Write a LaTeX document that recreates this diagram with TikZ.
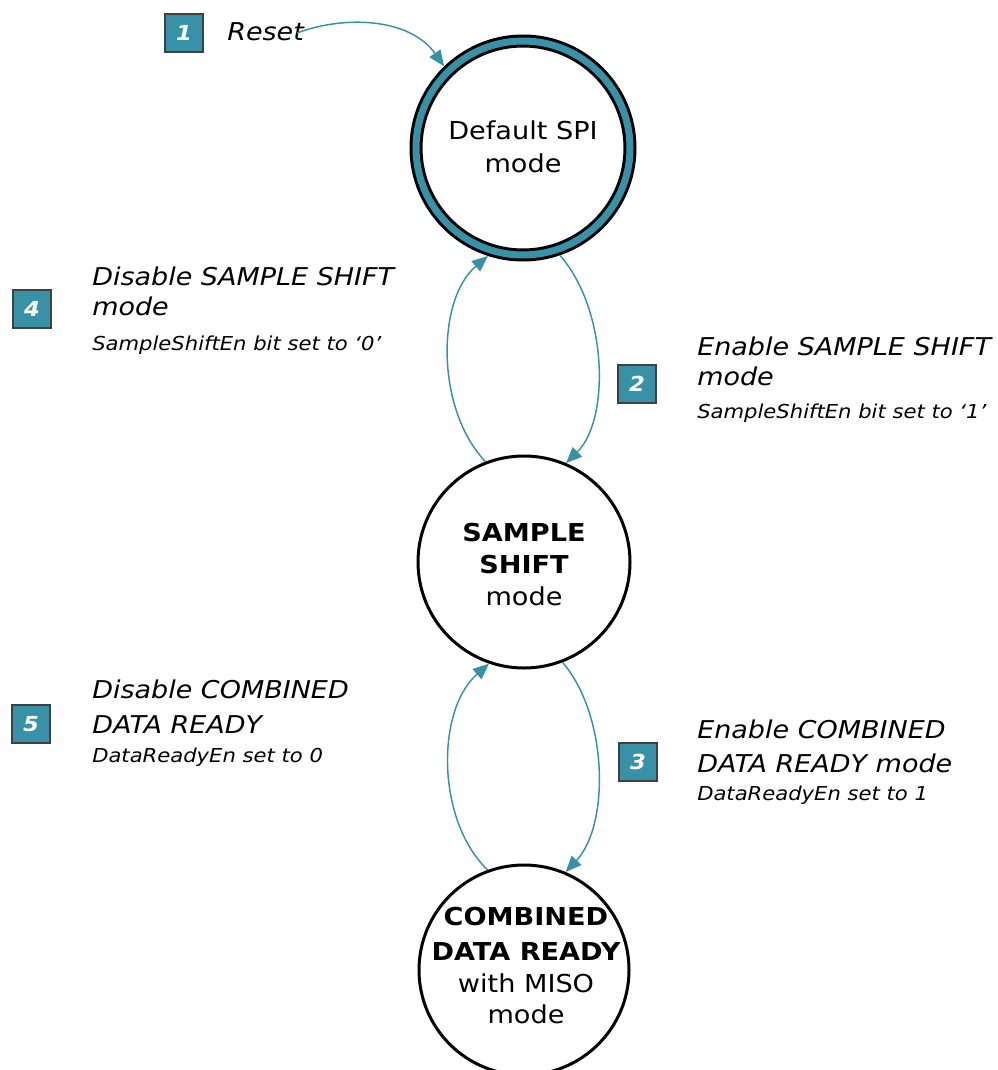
\documentclass[tikz,border=0pt]{standalone}
\usepackage{fontspec}
\setmainfont[FakeStretch=1.1]{DejaVu Sans}
\usetikzlibrary{arrows.meta}
\definecolor{tealc}{RGB}{55,146,168}
\begin{document}
\begin{tikzpicture}[x=0.75pt,y=-0.75pt,
  state/.style={circle, draw=black, line width=2.25pt, fill=white, inner sep=0pt},
  badge/.style={rectangle, fill=tealc, draw=black!75, line width=0.8pt, minimum size=28.5pt, inner sep=0pt, text=white, font=\fontsize{15.5}{18}\selectfont\bfseries\itshape},
  big/.style={anchor=base west, inner sep=0pt, font=\fontsize{18.4}{20}\selectfont\itshape},
  small/.style={anchor=base west, inner sep=0pt, font=\fontsize{14.4}{16}\selectfont\itshape},
  stxt/.style={anchor=base, inner sep=0pt, font=\fontsize{18.5}{22}\selectfont},
  stxtb/.style={anchor=base, inner sep=0pt, font=\fontsize{18.5}{22}\selectfont\bfseries},
  conn/.style={draw=tealc, line width=1.1pt, -{Triangle[length=12pt,width=10pt]}}
]
\useasboundingbox (0,0) rectangle (997,1070);

% states
\node[state, minimum size=160.5pt, double=tealc, double distance=5.25pt, outer sep=4.9pt] (spi) at (523,148) {};
\node[state, minimum size=159pt] (ss) at (524,562) {};
\node[state, minimum size=157.5pt] (cdr) at (524,970) {};

% state texts
\node[stxt] (t1a) at (523,140) {Default SPI};
\node[stxt] (t1b) at (523,172) {mode};
\node[stxtb] (t2a) at (524,541) {SAMPLE};
\node[stxtb] (t2b) at (524,573) {SHIFT};
\node[stxt] (t2c) at (524,605) {mode};
\node[stxtb] (t3a) at (526,925) {COMBINED};
\node[stxtb] (t3b) at (526,960) {DATA READY};
\node[stxt] (t3c) at (526,992) {with MISO};
\node[stxt] (t3d) at (526,1023) {mode};

% badges
\node[badge] (b1) at (184,33) {1};
\node[badge] (b4) at (32,309) {4};
\node[badge] (b2) at (637,384) {2};
\node[badge] (b5) at (31,724) {5};
\node[badge] (b3) at (638,762) {3};

% labels
\node[big] (reset) at (227,41) {Reset};
\node[big] (l4a) at (92,285) {Disable SAMPLE SHIFT};
\node[big] (l4b) at (92,315) {mode};
\node[small] (l4c) at (92,350) {SampleShiftEn bit set to ‘0’};
\node[big] (l2a) at (697,355) {Enable SAMPLE SHIFT};
\node[big] (l2b) at (697,385) {mode};
\node[small] (l2c) at (697,418) {SampleShiftEn bit set to ‘1’};
\node[big] (l5a) at (92,698) {Disable COMBINED};
\node[big] (l5b) at (92,733) {DATA READY};
\node[small] (l5c) at (92,762) {DataReadyEn set to 0};
\node[big] (l3a) at (697,738) {Enable COMBINED};
\node[big] (l3b) at (697,772) {DATA READY mode};
\node[small] (l3c) at (697,800) {DataReadyEn set to 1};

% connectors
\coordinate (rs) at (297,33);
\draw[conn] (rs) .. controls (345,15) and (410,18) .. (spi.134);
\draw[conn] (spi.-71) .. controls (608,310) and (610,420) .. (ss.67);
\draw[conn] (ss.111) .. controls (436,410) and (436,300) .. (spi.-108);
\draw[conn] (ss.-69) .. controls (608,715) and (610,825) .. (cdr.67);
\draw[conn] (cdr.110) .. controls (436,820) and (436,710) .. (ss.-109);
\end{tikzpicture}
\end{document}
